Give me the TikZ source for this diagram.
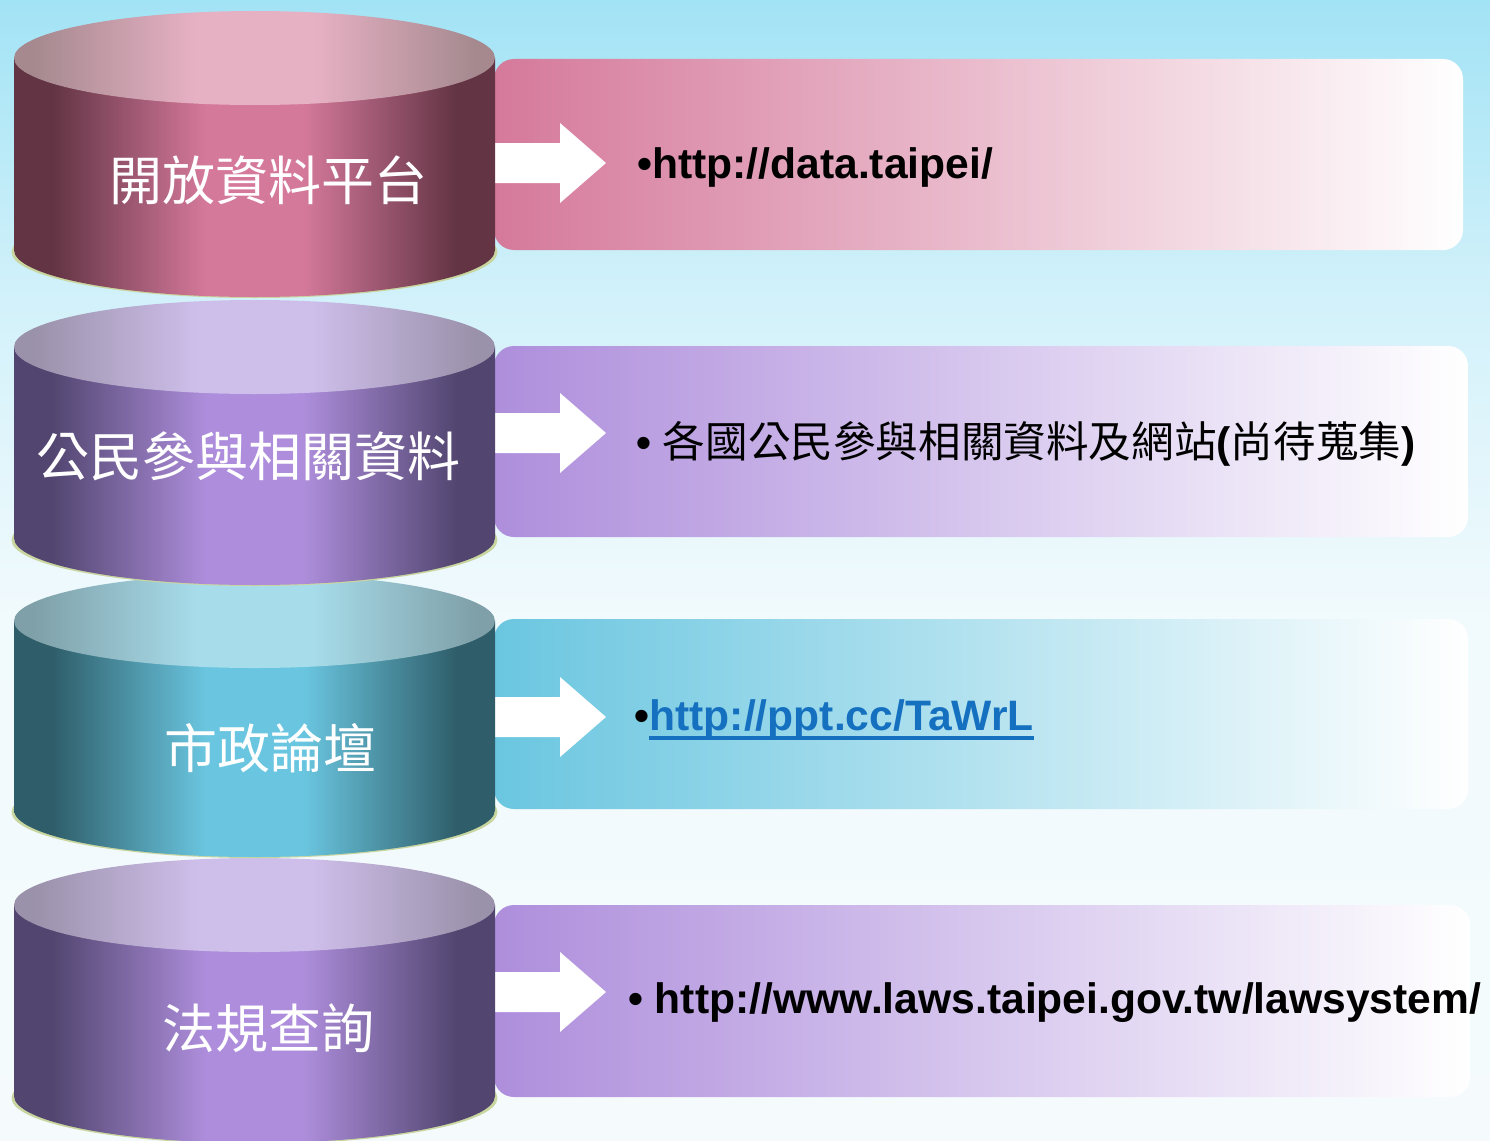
\documentclass[tikz,border=0pt]{standalone}
\usepackage{fontspec}
\setmainfont{Liberation Sans}
\newfontfamily\cjk{Noto Sans CJK TC}
\newcommand\zh[1]{{\cjk\mdseries #1}}

% drum colours: D = side edge, M = side middle, TE/TM = lid edge/middle
\definecolor{pinkD}{HTML}{623444}
\definecolor{pinkM}{HTML}{D5799A}
\definecolor{pinkTE}{HTML}{A5898F}
\definecolor{pinkTM}{HTML}{E7B1C4}
\definecolor{violD}{HTML}{524670}
\definecolor{violM}{HTML}{AE8EDC}
\definecolor{violTE}{HTML}{9A91AA}
\definecolor{violTM}{HTML}{CEBEEA}
\definecolor{tealD}{HTML}{2F5E6A}
\definecolor{tealM}{HTML}{6AC6E0}
\definecolor{tealTE}{HTML}{7FA0A8}
\definecolor{tealTM}{HTML}{A7DCEA}
\definecolor{drumshadow}{HTML}{C9D6A0}
\definecolor{linkblue}{HTML}{1570C0}
\definecolor{skyA}{HTML}{A2E3F5}
\definecolor{skyC}{HTML}{D2F1FA}
\definecolor{skyD}{HTML}{F1FAFD}
\definecolor{skyE}{HTML}{F5FBFD}

\pgfdeclareverticalshading{skywash}{100bp}{color(0bp)=(skyE); color(25bp)=(skyE);
  color(48bp)=(skyD); color(62bp)=(skyC); color(75bp)=(skyA); color(100bp)=(skyA)}
% side and lid shadings of one drum colour
\newcommand\drumshades[1]{%
  \pgfdeclarehorizontalshading{#1side}{100bp}{color(0bp)=(#1D); color(29bp)=(#1D);
    color(45bp)=(#1M); color(55bp)=(#1M); color(71bp)=(#1D); color(100bp)=(#1D)}%
  \pgfdeclarehorizontalshading{#1lid}{100bp}{color(0bp)=(#1TE); color(27bp)=(#1TE);
    color(44bp)=(#1TM); color(56bp)=(#1TM); color(73bp)=(#1TE); color(100bp)=(#1TE)}}
\drumshades{pink}
\drumshades{viol}
\drumshades{teal}

\begin{document}
\begin{tikzpicture}[x=1pt,y=-1pt,
    urltext/.style={inner sep=0pt,font=\fontsize{42.6}{48}\selectfont\bfseries},
    drumtext/.style={inner sep=0pt,text=white,font=\fontsize{53}{60}\selectfont\cjk}]
  \useasboundingbox (0,0) rectangle (1490,1140);
  \shade[shading=skywash] (0,0) rectangle (1490,1140);

  % boxes and arrows
  \foreach \bt/\bb/\br/\ay/\c in {59/250/1463/163/pink,346/537/1468/433/viol,619/809/1468/717/teal,905/1097/1470/992/viol}{
    \shade[rounded corners=20pt,left color=\c M,right color=white] (494,\bt) rectangle (\br,\bb);
    \fill[white] (495,\ay-20) -- (560,\ay-20) -- (560,\ay-40) -- (606,\ay)
      -- (560,\ay+40) -- (560,\ay+20) -- (495,\ay+20) -- cycle;
  }

  % drums, lowest first
  \foreach \ty/\by/\c in {905/1096/viol,621/810/teal,347/538/viol,58/250/pink}{
    \fill[drumshadow] (254.5,\by+2) ellipse[x radius=243,y radius=46];
    \shade[shading=\c side] (14,\ty) -- (14,\by)
      arc[start angle=180,end angle=0,x radius=240.5,y radius=47] -- (495,\ty) -- cycle;
    \shade[shading=\c lid] (254.5,\ty) ellipse[x radius=240.5,y radius=47];
  }

  \node[drumtext] (open) at (268,180) {開放資料平台};
  \node[drumtext] (civic) at (248,456) {公民參與相關資料};
  \node[drumtext] (forum) at (270,748) {市政論壇};
  \node[drumtext] (laws) at (268,1028) {法規查詢};

  \node[urltext,anchor=base west] (url1) at (637,178) {•http://data.taipei/};
  \node[urltext,anchor=base west] (url2) at (636,457) {•\ \zh{各國公民參與相關資料及網站}(\zh{尚待蒐集})};
  \node[urltext,anchor=base west] (dot3) at (634,730) {•};
  \node[urltext,text=linkblue,anchor=base west] (url3) at (dot3.base east) {http://ppt.cc/TaWrL};
  \draw[linkblue,line width=3.5pt] ([yshift=-8pt]url3.base west) -- ([yshift=-8pt]url3.base east);
  \node[urltext,anchor=base west] (url4) at (628,1013) {•\ http://www.laws.taipei.gov.tw/lawsystem/};
\end{tikzpicture}
\end{document}
